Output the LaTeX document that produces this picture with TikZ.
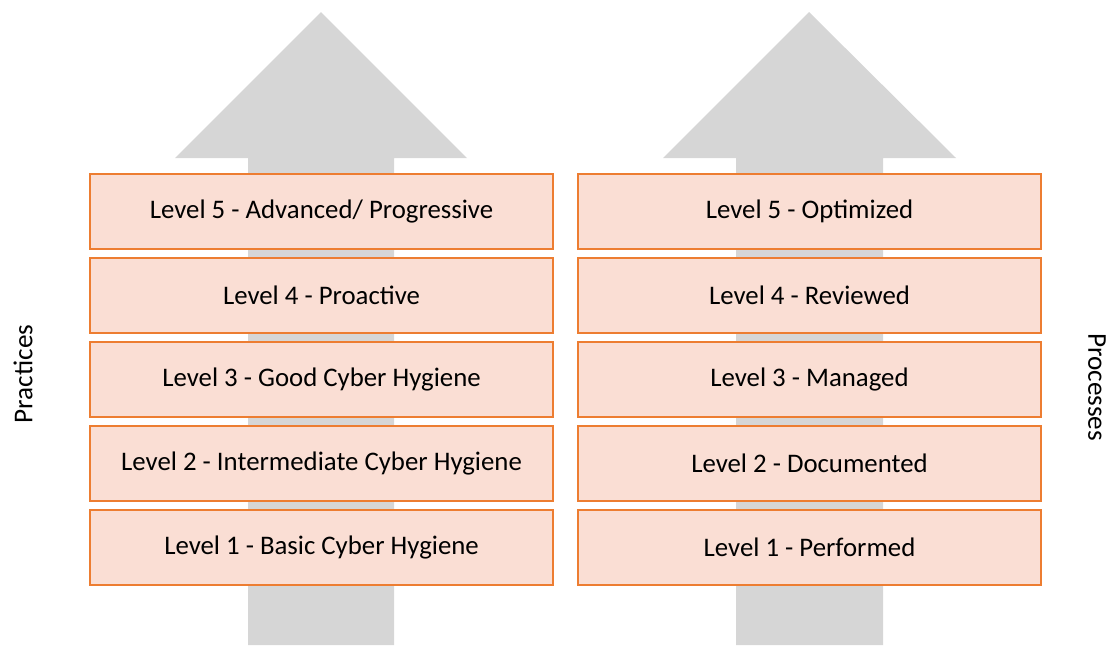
\documentclass[tikz,border=0pt]{standalone}
\usepackage{fontspec}
\setmainfont{Carlito}
\definecolor{lvlfill}{RGB}{250,222,212}
\definecolor{lvlline}{RGB}{237,125,49}
\definecolor{arrowgray}{RGB}{214,214,214}

\begin{document}
\begin{tikzpicture}[x=0.5pt,y=-0.5pt]
    \tikzset{level/.style={draw=lvlline,line width=1pt,fill=lvlfill,minimum width=231.5pt,minimum height=37.5pt,inner sep=0pt,font=\fontsize{13.4}{16}\selectfont}};
    \tikzset{side/.style={font=\fontsize{13.6}{16}\selectfont,inner sep=0pt}};
    \useasboundingbox (0,0) rectangle (1112,645);
    % big grey arrows behind the two columns
    \fill[arrowgray] (248,645) -- (248,158) -- (175,158) -- (321,12) -- (467,158) -- (394,158) -- (394,645) -- cycle;
    \fill[arrowgray] (736,645) -- (736,158) -- (663,158) -- (809,12) -- (956,158) -- (883,158) -- (883,645) -- cycle;
    % practice levels, bottom to top
    \foreach \i/\txt in {1/{Basic Cyber Hygiene},2/{Intermediate Cyber Hygiene},3/{Good Cyber Hygiene},4/{Proactive},5/{Advanced/ Progressive}}
        \node[level] (prac\i) at (321.5,{547-84*(\i-1)}) {Level \i{} - \txt};
    % process levels
    \foreach \i/\txt in {1/Performed,2/Documented,3/Managed,4/Reviewed,5/Optimized}
        \node[level] (proc\i) at (809.5,{547-84*(\i-1)}) {Level \i{} - \txt};
    \node[side,rotate=90] (practices) at (23,374) {Practices};
    \node[side,rotate=-90] (processes) at (1097,387) {Processes};
\end{tikzpicture}
\end{document}
